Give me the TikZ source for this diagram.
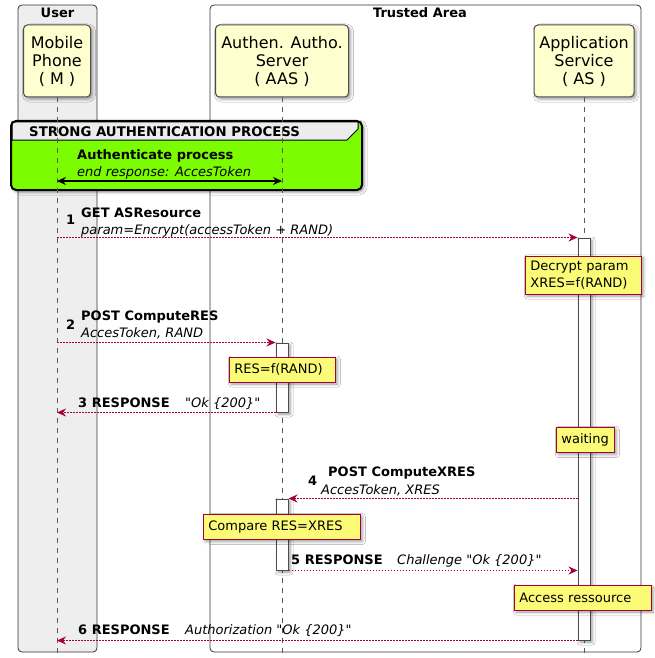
\documentclass[tikz,border=0pt]{standalone}
\usepackage{fontspec}
\setmainfont{DejaVu Sans}
\usetikzlibrary{arrows.meta,shadows.blur}

\definecolor{partfill}{HTML}{FEFECE}
\definecolor{notefill}{HTML}{FBFB77}
\definecolor{umlred}{HTML}{A80036}
\definecolor{grpgreen}{HTML}{7CFC00}
\definecolor{boxgray}{HTML}{EEEEEE}

% straight double quote (no TeX mapping)
\newcommand{\dq}{\XeTeXglyph\XeTeXcharglyph"22\relax}

\tikzset{
  softshadow/.style={blur shadow={shadow xshift=2pt,shadow yshift=-2pt,shadow blur radius=3pt}},
  area/.style={draw=black!80, line width=0.8pt, rounded corners=4pt},
  boxtitle/.style={font=\fontsize{13}{16}\selectfont\bfseries, inner sep=0pt},
  part/.style={draw=gray!60!black, line width=1pt, fill=partfill, rounded corners=4pt,
    align=center, minimum height=72pt, inner xsep=5pt, font=\fontsize{16}{18}\selectfont, softshadow},
  life/.style={draw=gray!70!black, line width=1pt, dash pattern=on 5pt off 5pt},
  act/.style={draw=gray!60!black, line width=1pt, fill=white, minimum width=12pt, inner sep=0pt, softshadow},
  note/.style={draw=umlred, line width=0.8pt, fill=notefill, align=left, anchor=west,
    inner xsep=5pt, inner ysep=5pt, minimum height=25pt,
    font=\fontsize{13}{17}\selectfont, softshadow},
  lbl/.style={anchor=base west, inner sep=0pt, font=\fontsize{13}{17}\selectfont},
  msg/.style={draw=umlred, line width=1.6pt, dash pattern=on 1.6pt off 1.4pt, -{Stealth[length=9pt,width=8pt,inset=3pt]}},
  both/.style={draw=black, line width=1.5pt, {Stealth[length=9pt,width=8pt,inset=3pt]}-{Stealth[length=9pt,width=8pt,inset=3pt]}}
}

\begin{document}
\begin{tikzpicture}[x=1pt,y=-1pt]
\useasboundingbox (0,0) rectangle (654,658);

% boxes
\draw[area, fill=boxgray] (18,5) rectangle (97,652);
\node[boxtitle] (user) at (57.5,13) {User};
\draw[area, fill=white] (210,5) rectangle (641,652);
\node[boxtitle] (trusted) at (420,13) {Trusted Area};

% participants
\node[part, minimum width=67pt] (mp) at (57,61) {Mobile\\Phone\\( M )};
\node[part, minimum width=133pt] (aas) at (282,61) {Authen. Autho.\\Server\\( AAS )};
\node[part, minimum width=100pt] (as) at (584,61) {Application\\Service\\( AS )};
\coordinate (bottom) at (0,658);

% strong authentication group
\fill[grpgreen, rounded corners=5pt, softshadow] (11,121) rectangle (362,190);
\filldraw[fill=gray!15, draw=black, line width=1pt, rounded corners=0pt]
  (12,140) -- (347,140) -- (358,129) -- (358,122) -- (12,122) -- cycle;
\draw[black, line width=2pt, rounded corners=5pt] (11,121) rectangle (362,190);
\node[lbl, font=\fontsize{13.3}{17}\selectfont\bfseries] (grp) at (29,136) {STRONG AUTHENTICATION PROCESS};

% lifelines
\draw[life] (mp.south) -- (mp.south |- bottom);
\draw[life] (aas.south) -- (aas.south |- bottom);
\draw[life] (as.south) -- (as.south |- bottom);

% authenticate process
\node[lbl] (ap) at (77,159) {\bfseries Authenticate process};
\node[lbl] (apr) at (77,176) {\itshape end response: AccesToken};
\coordinate (auth) at (0,181);
\draw[both] (mp.south |- auth) -- (aas.south |- auth);

% activations
\node[act, minimum height=402pt] (actAS) at (584,439) {};
\node[act, minimum height=69pt] (actA1) at (282,377.5) {};
\node[act, minimum height=71pt] (actA2) at (282,534.5) {};

% notes
\node[note, text width=106pt] (decrypt) at (525,275) {Decrypt param\\XRES=f(RAND)};
\node[note, text width=96pt] (res) at (229,369.5) {RES=f(RAND)};
\node[note, text width=48pt] (wait) at (556,440) {waiting};
\node[note, text width=147pt] (cmp) at (203,527) {Compare RES=XRES};
\node[note, text width=127pt] (access) at (514,597.5) {Access ressource};

% 1
\node[lbl] (n1) at (66,224) {\bfseries 1};
\node[lbl] (t1) at (81,217) {\bfseries GET ASResource};
\node[lbl] (p1) at (81,234) {\itshape param=Encrypt(accessToken + RAND)};
\draw[msg] (mp.south |- actAS.north) -- (actAS.north west);

% 2
\node[lbl] (n2) at (66,329) {\bfseries 2};
\node[lbl] (t2) at (81,320) {\bfseries POST ComputeRES};
\node[lbl] (p2) at (81,337) {\itshape AccesToken, RAND};
\draw[msg] (mp.south |- actA1.north) -- (actA1.north west);

% 3
\node[lbl] (t3) at (78,407) {\bfseries 3 RESPONSE};
\node[lbl] (p3) at (185,407) {\itshape \dq Ok \{200\}\dq};
\draw[msg] (actA1.south west) -- (mp.south |- actA1.south);

% 4
\node[lbl] (n4) at (308,485) {\bfseries 4};
\node[lbl] (t4) at (328,476) {\bfseries POST ComputeXRES};
\node[lbl] (p4) at (321,494) {\itshape AccesToken, XRES};
\draw[msg] (actAS.west |- actA2.north) -- (actA2.north east);

% 5
\node[lbl] (t5) at (291,564) {\bfseries 5 RESPONSE};
\node[lbl] (p5) at (397,564) {\itshape Challenge \dq Ok \{200\}\dq};
\draw[msg] (actA2.south east) -- (actAS.west |- actA2.south);

% 6
\node[lbl] (t6) at (78,634) {\bfseries 6 RESPONSE};
\node[lbl] (p6) at (185,634) {\itshape Authorization \dq Ok \{200\}\dq};
\draw[msg] (actAS.south west) -- (mp.south |- actAS.south);

\end{tikzpicture}
\end{document}
